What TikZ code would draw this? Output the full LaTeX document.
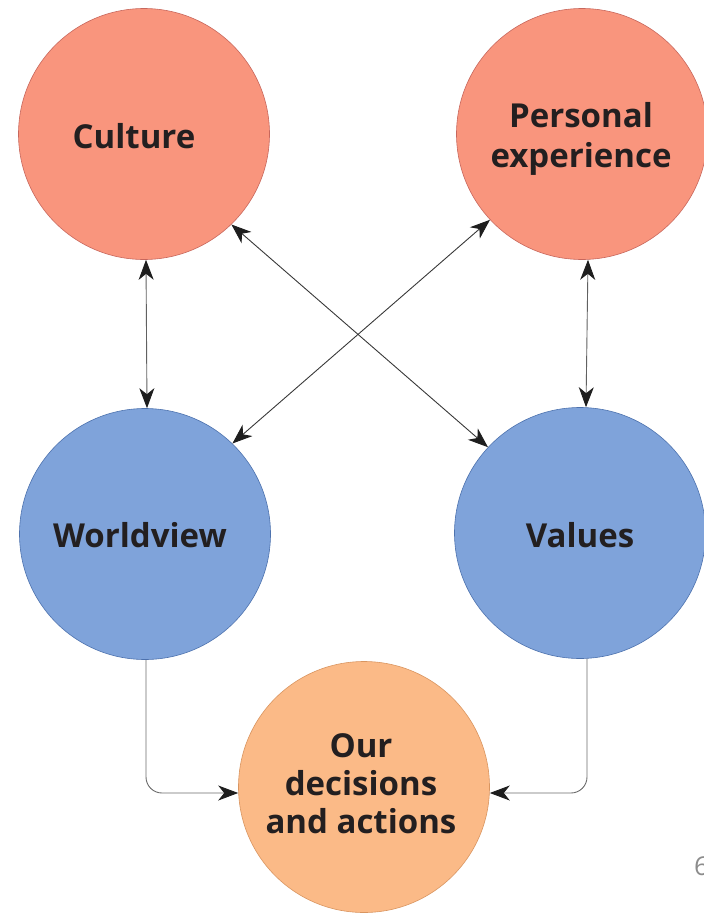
\documentclass[tikz,border=0pt]{standalone}
\usepackage{fontspec}
\setmainfont{Open Sans}
\usetikzlibrary{arrows.meta}
\definecolor{redfill}{HTML}{F9957D}
\definecolor{redline}{HTML}{C8675C}
\definecolor{bluefill}{HTML}{7FA3DA}
\definecolor{blueline}{HTML}{4D72AE}
\definecolor{orfill}{HTML}{FBBA87}
\definecolor{orline}{HTML}{D99560}
\definecolor{txt}{HTML}{231F20}
\definecolor{tipc}{HTML}{1E1E1E}
\begin{document}
\begin{tikzpicture}[x=1pt,y=-1pt,
  bubble/.style={circle, line width=0.6pt, inner sep=0pt, minimum size=251pt},
  redb/.style={bubble, fill=redfill, draw=redline},
  blueb/.style={bubble, fill=bluefill, draw=blueline},
  orb/.style={bubble, fill=orfill, draw=orline},
  lbl/.style={align=center, text=txt, inner sep=0pt, font=\fontsize{33}{40}\selectfont\bfseries},
  link/.style={line width=0.9pt, draw=black!62, {Stealth[length=20pt,width=15pt,inset=6pt,color=tipc]}-{Stealth[length=20pt,width=15pt,inset=6pt,color=tipc]}},
  xlink/.style={link, draw=black!78},
  feed/.style={line width=0.9pt, draw=black!58, rounded corners=16pt, -{Stealth[length=20pt,width=15pt,inset=6pt,color=tipc]}}]
\useasboundingbox (0,0) rectangle (704,914);
\node[redb] (culture) at (144,134) {};
\node[redb] (personal) at (582,134) {};
\node[blueb] (worldview) at (145,534) {};
\node[blueb] (values) at (580,533) {};
\node[orb] (ours) at (364,787) {};
\node[lbl, anchor=base] (tculture) at (134,148) {Culture};
\node[lbl] (tpersonal) at (581,139) {Personal\\experience};
\node[lbl, anchor=base] (tworldview) at (140,547) {Worldview};
\node[lbl, anchor=base] (tvalues) at (580,547) {Values};
\node[lbl, font=\fontsize{33}{38}\selectfont\bfseries] (tours) at (361,784) {Our\\decisions\\and actions};
\node[text=black!45, font=\fontsize{26}{26}\selectfont, anchor=west, inner sep=0pt] (pg) at (694,866) {6};
\draw[link] ([xshift=2pt]culture.south) -- ([xshift=2pt]worldview.north);
\draw[link] ([xshift=6pt]personal.south) -- ([xshift=6pt]values.north);
\draw[xlink] (culture.-46) -- (values.137);
\draw[xlink] (personal.-137) -- (worldview.46);
\draw[feed] ([xshift=1pt]worldview.south) |- ([yshift=-6pt]ours.west);
\draw[feed] ([xshift=7pt]values.south) |- ([yshift=-6pt]ours.east);
\end{tikzpicture}
\end{document}
